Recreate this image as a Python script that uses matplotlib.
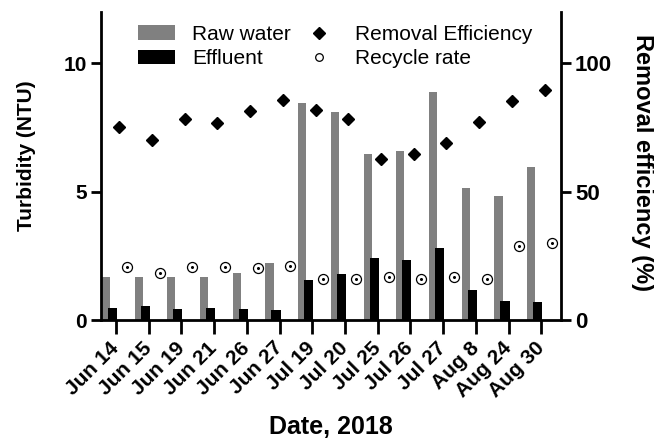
import matplotlib
matplotlib.use("Agg")
import matplotlib.pyplot as plt
from matplotlib.lines import Line2D
from matplotlib.patches import Patch
import numpy as np

plt.rcParams['font.family'] = ['Liberation Sans', 'DejaVu Sans']

dates = ["Jun 14", "Jun 15", "Jun 19", "Jun 21", "Jun 26", "Jun 27", "Jul 19",
         "Jul 20", "Jul 25", "Jul 26", "Jul 27", "Aug 8", "Aug 24", "Aug 30"]
raw_water = [1.69, 1.69, 1.69, 1.67, 1.82, 2.21, 8.44,
             8.10, 6.48, 6.57, 8.90, 5.14, 4.82, 5.96]
effluent = [0.47, 0.54, 0.42, 0.47, 0.42, 0.39, 1.56,
            1.80, 2.41, 2.34, 2.82, 1.17, 0.75, 0.70]
removal_eff = [75.3, 70.3, 78.4, 76.8, 81.3, 85.7, 81.8,
               78.4, 62.9, 64.8, 68.8, 77.2, 85.3, 89.6]
recycle_rate = [20.6, 18.5, 20.6, 20.6, 20.3, 21.1, 15.9,
                16.0, 16.8, 16.1, 16.9, 16.0, 29.0, 29.9]

x = np.arange(len(dates))
gray = '#808080'

fig = plt.figure(figsize=(6.54, 4.42), dpi=100)
ax = fig.add_axes([0.1544, 0.276, 0.7034, 0.6969])
ax2 = ax.twinx()

ax.bar(x - 0.31, raw_water, width=0.25, color=gray, zorder=2)
ax.bar(x - 0.11, effluent, width=0.28, color='black', zorder=3)

ax2.plot(x + 0.10, removal_eff, linestyle='none', marker='D', markersize=6,
         color='black', zorder=4)
ax2.plot(x + 0.33, recycle_rate, linestyle='none', marker='o', markersize=7.2,
         markerfacecolor='white', markeredgecolor='black', markeredgewidth=0.9, zorder=4)
ax2.plot(x + 0.33, recycle_rate, linestyle='none', marker='o', markersize=1.2,
         color='black', zorder=5)

ax.set_xlim(-0.46, 13.6)
ax.set_ylim(0, 12)
ax2.set_ylim(0, 120)
ax.set_yticks([0, 5, 10])
ax2.set_yticks([0, 50, 100])
ax.set_xticks(x)
ax.set_xticklabels(dates, rotation=45, ha='right', va='center',
                   rotation_mode='anchor', fontsize=15, fontweight='bold')

for a in (ax, ax2):
    a.spines['top'].set_visible(False)
    for s in a.spines.values():
        s.set_linewidth(2)
ax.spines['right'].set_visible(False)
ax2.spines['left'].set_visible(False)
ax2.spines['bottom'].set_visible(False)

ax.tick_params(axis='y', length=7, width=2, pad=3, labelsize=15)
ax.tick_params(axis='x', length=10, width=2, pad=8)
ax2.tick_params(axis='y', length=7, width=2, pad=3, labelsize=16)
for lab in ax.get_yticklabels() + ax2.get_yticklabels():
    lab.set_fontweight('bold')

ax.set_ylabel("Turbidity (NTU)", fontsize=15, fontweight='bold', labelpad=20)
ax.yaxis.label.set_y(0.532)
ax2.set_ylabel("Removal efficiency (%)", fontsize=17, fontweight='bold',
               rotation=270, labelpad=30)
ax2.yaxis.label.set_y(0.512)
ax.set_xlabel("Date, 2018", fontsize=18, fontweight='bold', labelpad=10)

handles = [
    Patch(facecolor=gray, edgecolor='none', label='Raw water'),
    Patch(facecolor='black', edgecolor='none', label='Effluent'),
    Line2D([], [], linestyle='none', marker='D', markersize=6, color='black',
           label='Removal Efficiency'),
    Line2D([], [], linestyle='none', marker='o', markersize=5.5, markerfacecolor='white',
           markeredgecolor='black', markeredgewidth=0.9, label='Recycle rate'),
]
fig.legend(handles=handles, ncol=2, loc='upper left',
           bbox_to_anchor=(138 / 654, 1 - 25 / 442), frameon=False, fontsize=15,
           borderpad=0, borderaxespad=0, handlelength=1.78, handleheight=0.7,
           handletextpad=0.8, columnspacing=0.5, labelspacing=0.25)

fig.savefig("out.png", dpi=100)
